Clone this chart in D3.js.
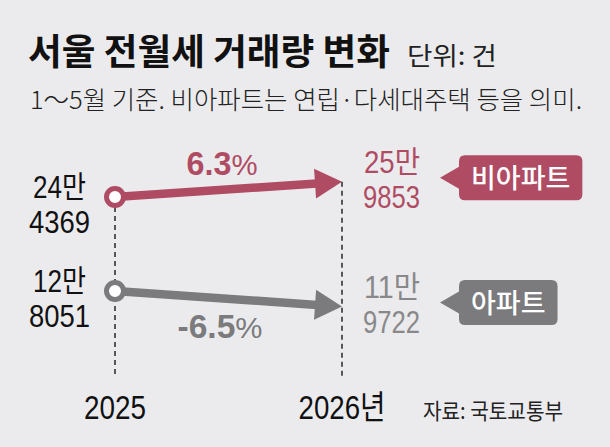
<!DOCTYPE html>
<html><head><meta charset="utf-8">
<script src="https://cdn.jsdelivr.net/npm/d3@7"></script>
<style>
body{margin:0;background:#ebebed;}
svg{display:block}
</style>
</head><body><svg id="c" width="610" height="447"></svg>
<script>
// ---- data ----
const years = ["2025", "2026"];
const yearLabels = ["2025", "2026년"];
const series = ["비아파트", "아파트"];
const values2025 = [244369, 128051];
const values2026 = [259853, 119722];
const changeLabels = ["6.3", "-6.5"];
const title = "서울 전월세 거래량 변화";
const unitLabel = "단위: 건";
const subtitle = "1～5월 기준. 비아파트는 연립·다세대주택 등을 의미.";
const sourceLabel = "자료: 국토교통부";

// ---- styles ----
const lineColors = ["#b04b64", "#7b7b7d"];
const valueColors = ["#b04b64", "#88888a"];
const KR = "'Noto Sans CJK KR','Noto Sans',sans-serif";
const NUM = "'Liberation Sans','Noto Sans CJK KR',sans-serif";
const squeeze = (sel, w) => sel.attr("textLength", w).attr("lengthAdjust", "spacingAndGlyphs");

const svg = d3.select("#c");
svg.append("rect").attr("width", 610).attr("height", 447).attr("fill", "#ebebed");

// ---- header ----
squeeze(svg.append("text").attr("x", 28).attr("y", 65).text(title)
  .attr("font-family", KR).attr("font-weight", 700).attr("font-size", 36)
  .attr("fill", "#111"), 362);
squeeze(svg.append("text").attr("x", 407).attr("y", 65).text(unitLabel)
  .attr("font-family", KR).attr("font-size", 25).attr("fill", "#222"), 90);
squeeze(svg.append("text").attr("x", 30).attr("y", 109).text(subtitle)
  .attr("font-family", KR).attr("font-size", 25).attr("font-weight", 300).attr("fill", "#222"), 552);

// ---- scales ----
const x = d3.scalePoint().domain(years).range([115, 342]);
const row = d3.scalePoint().domain(series).range([197, 291]);
const pct = d3.scaleLinear().domain([-10, 10]).range([24, -24]);

const data = series.map((s, i) => {
  const change = (values2026[i] - values2025[i]) / values2025[i] * 100;
  return {
    name: s, i, v0: values2025[i], v1: values2026[i], change,
    x0: x(years[0]), y0: row(s),
    x1: x(years[1]), y1: row(s) + pct(change)
  };
});

const axisBottom = 378;

// dashed guides
const g = svg.append("g");
g.append("line").attr("x1", x(years[0])).attr("x2", x(years[0]))
  .attr("y1", data[0].y0 + 10).attr("y2", axisBottom)
  .attr("stroke", "#333").attr("stroke-width", 1.6).attr("stroke-dasharray", "5,4");
g.append("line").attr("x1", x(years[1])).attr("x2", x(years[1]))
  .attr("y1", data[0].y1).attr("y2", axisBottom)
  .attr("stroke", "#333").attr("stroke-width", 1.6).attr("stroke-dasharray", "5,4");

// year labels
svg.selectAll("text.year").data(years).join("text").attr("class", "year")
  .attr("x", d => x(d)).attr("y", 419).attr("text-anchor", "middle")
  .attr("font-family", NUM).attr("font-size", 33).attr("fill", "#111")
  .text((d, i) => yearLabels[i])
  .attr("textLength", (d, i) => i === 0 ? 62 : 87).attr("lengthAdjust", "spacingAndGlyphs");
squeeze(svg.append("text").attr("x", 423).attr("y", 419).text(sourceLabel)
  .attr("font-family", KR).attr("font-size", 22).attr("fill", "#222"), 140);

// two-line value label
function valueLabel(xPos, yTop, v, color, anchor, widths) {
  const man = Math.floor(v / 10000), rest = v % 10000;
  const t = svg.append("text").attr("font-family", NUM).attr("font-size", 31)
    .attr("fill", color).attr("text-anchor", anchor);
  squeeze(t.append("tspan").attr("x", xPos[0]).attr("y", yTop).text(man + "만"), widths[0]);
  squeeze(t.append("tspan").attr("x", xPos[1]).attr("y", yTop + 35).text(rest), widths[1]);
}

// arrows
const headLen = 27, headHalf = 15;
data.forEach(d => {
  const c = lineColors[d.i];
  const dx = d.x1 - d.x0, dy = d.y1 - d.y0, L = Math.hypot(dx, dy);
  const ux = dx / L, uy = dy / L, nx = -uy, ny = ux;
  const bx = d.x1 - ux * headLen, by = d.y1 - uy * headLen;
  svg.append("line").attr("x1", d.x0).attr("y1", d.y0).attr("x2", bx + ux * 2).attr("y2", by + uy * 2)
    .attr("stroke", c).attr("stroke-width", 8.5);
  svg.append("path")
    .attr("d", `M${d.x1},${d.y1}L${bx + nx * headHalf},${by + ny * headHalf}L${bx - nx * headHalf},${by - ny * headHalf}Z`)
    .attr("fill", c);
  svg.append("circle").attr("cx", d.x0).attr("cy", d.y0).attr("r", 8.5)
    .attr("fill", "#fff").attr("stroke", c).attr("stroke-width", 5);

  // change label
  const up = d.change >= 0;
  const t = svg.append("text").attr("x", up ? 222 : 220).attr("text-anchor", "middle")
    .attr("y", up ? d.y0 - 22 : d.y0 + 47)
    .attr("fill", c).attr("font-family", NUM)
    .attr("textLength", up ? 71 : 85).attr("lengthAdjust", "spacingAndGlyphs");
  t.append("tspan").attr("font-size", 33).attr("font-weight", 700).text(changeLabels[d.i]);
  t.append("tspan").attr("font-size", 30).attr("font-weight", 400).text("%");

  // values
  valueLabel([86, 90], d.y0 + 1, d.v0, "#111", "end", [53, 61]);
  valueLabel([364, 363], d.y1 - 9, d.v1, valueColors[d.i], "start", [56, 57]);

  // label bubble
  const bg = svg.append("g");
  const bubble = bg.append("path").attr("fill", c);
  const lt = bg.append("text").attr("x", 0).attr("y", 0).text(d.name)
    .attr("font-family", KR).attr("font-size", 27).attr("font-weight", 500)
    .attr("fill", "#fff").attr("text-anchor", "middle");
  const tw = lt.node().getComputedTextLength();
  const left = 459, tip = 440, h = 45, pad = 12, r = 6;
  const w = tw + pad * 2;
  const cy = d.y1 - 4;
  const top = cy - h / 2, bot = cy + h / 2, right = left + w;
  bubble.attr("d",
    `M${tip},${cy}L${left},${cy - 11}L${left},${top + r}Q${left},${top} ${left + r},${top}` +
    `L${right - r},${top}Q${right},${top} ${right},${top + r}L${right},${bot - r}Q${right},${bot} ${right - r},${bot}` +
    `L${left + r},${bot}Q${left},${bot} ${left},${bot - r}L${left},${cy + 11}Z`);
  lt.attr("x", left + w / 2).attr("y", cy + 10);
});
</script>
</body></html>
